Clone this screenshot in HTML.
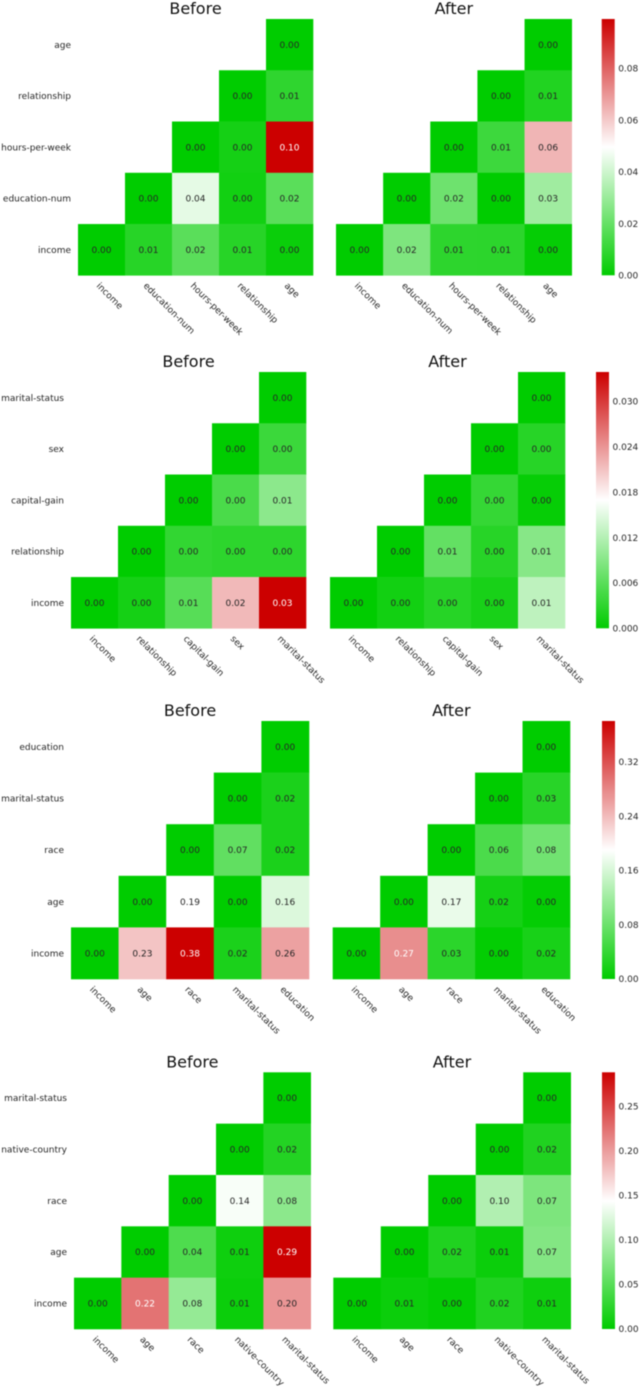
<!DOCTYPE html>
<html lang="en">
<head>
<meta charset="utf-8">
<title>Before and After Correlation Heatmaps</title>
<style>
html,body{margin:0;padding:0;background:#fff;}
body{width:640px;height:1388px;overflow:hidden;}
svg{display:block;filter:blur(0.4px);}
text{font-family:"DejaVu Sans","Liberation Sans",sans-serif;}
</style>
</head>
<body>
<svg id="chart" xmlns="http://www.w3.org/2000/svg" width="640" height="1388" viewBox="0 0 640 1388"></svg>
<script>
// ---- data: each row runs top to bottom, null means masked cell ----
const labels1 = ["income", "education-num", "hours-per-week", "relationship", "age"];
const before1 = [
  [null, null, null, null, 0],
  [null, null, null, 0, 0.0092],
  [null, null, 0, 0.004, 0.0991],
  [null, 0, 0.0445, 0.0035, 0.0175],
  [0, 0.0075, 0.0175, 0.0075, 0.002]
];
const after1 = [
  [null, null, null, null, 0],
  [null, null, null, 0, 0.0065],
  [null, null, 0, 0.0118, 0.064],
  [null, 0, 0.0214, 0, 0.031],
  [0, 0.0245, 0.0087, 0.0085, 0.001]
];
const ticks1 = ["0.00", "0.02", "0.04", "0.06", "0.08"];

const labels2 = ["income", "relationship", "capital-gain", "sex", "marital-status"];
const before2 = [
  [null, null, null, null, 0],
  [null, null, null, 0, 0.0039],
  [null, null, 0, 0.0049, 0.0093],
  [null, 0, 0.0033, 0.003, 0.003],
  [0, 0.0014, 0.0058, 0.0216, 0.0339]
];
const after2 = [
  [null, null, null, null, 0],
  [null, null, null, 0, 0.0026],
  [null, null, 0, 0.0035, 0.0004],
  [null, 0, 0.0066, 0.0026, 0.009],
  [0, 0.0012, 0.0025, 0.0016, 0.0126]
];
const ticks2 = ["0.000", "0.006", "0.012", "0.018", "0.024", "0.030"];

const labels3 = ["income", "age", "race", "marital-status", "education"];
const before3 = [
  [null, null, null, null, 0],
  [null, null, null, 0, 0.02],
  [null, null, 0, 0.072, 0.02],
  [null, 0, 0.19, 0, 0.164],
  [0, 0.234, 0.38, 0.02, 0.26]
];
const after3 = [
  [null, null, null, null, 0],
  [null, null, null, 0, 0.03],
  [null, null, 0, 0.056, 0.084],
  [null, 0, 0.174, 0.016, 0.003],
  [0, 0.274, 0.032, 0.002, 0.018]
];
const ticks3 = ["0.00", "0.08", "0.16", "0.24", "0.32"];

const labels4 = ["income", "age", "race", "native-country", "marital-status"];
const before4 = [
  [null, null, null, null, 0],
  [null, null, null, 0, 0.02],
  [null, null, 0, 0.14, 0.079],
  [null, 0, 0.044, 0.008, 0.288],
  [0, 0.223, 0.084, 0.006, 0.204]
];
const after4 = [
  [null, null, null, null, 0],
  [null, null, null, 0, 0.018],
  [null, null, 0, 0.1, 0.0705],
  [null, 0, 0.018, 0.006, 0.074],
  [0, 0.006, 0.002, 0.018, 0.008]
];
const ticks4 = ["0.00", "0.05", "0.10", "0.15", "0.20", "0.25"];

// ---- figure layout (separate from data) ----
const figures = [
  {id:"row-1", labels:labels1, before:before1, after:after1, ticks:ticks1, top:19, bottom:275.3, bx0:78, bx1:313, ax0:336, ax1:571.7, cb0:601.7, cb1:614.7},
  {id:"row-2", labels:labels2, before:before2, after:after2, ticks:ticks2, top:372, bottom:628.3, bx0:71, bx1:306, ax0:330, ax1:565, cb0:596, cb1:609},
  {id:"row-3", labels:labels3, before:before3, after:after3, ticks:ticks3, top:721, bottom:979, bx0:71, bx1:309, ax0:332.7, ax1:570, cb0:602, cb1:615},
  {id:"row-4", labels:labels4, before:before4, after:after4, ticks:ticks4, top:1072.3, bottom:1329, bx0:74, bx1:310.7, ax0:333.3, ax1:570.7, cb0:602, cb1:615}
];

const NS = "http://www.w3.org/2000/svg";
const root = document.getElementById("chart");

function mk(tag, attrs, parent, txt){
  const el = document.createElementNS(NS, tag);
  for (const k in attrs) el.setAttribute(k, attrs[k]);
  if (txt !== undefined) el.textContent = txt;
  parent.appendChild(el);
  return el;
}
function lerp(a, b, t){ return a + (b - a) * t; }
function cmap(t){
  t = Math.max(0, Math.min(1, t));
  if (t < 0.5){
    const u = t * 2;
    return [lerp(0,255,u), lerp(204,255,u), lerp(0,255,u)].map(Math.round);
  }
  const u = (t - 0.5) * 2;
  return [lerp(255,204,u), lerp(255,0,u), lerp(255,0,u)].map(Math.round);
}
function css(c){ return "rgb(" + c[0] + "," + c[1] + "," + c[2] + ")"; }
function luminance(c){
  const l = c.map(function(v){
    const s = v / 255;
    return s <= 0.03928 ? s / 12.92 : Math.pow((s + 0.055) / 1.055, 2.4);
  });
  return 0.2126 * l[0] + 0.7152 * l[1] + 0.0722 * l[2];
}
function maxOf(matrix){
  let m = 0;
  matrix.forEach(function(r){ r.forEach(function(v){ if (v !== null && v > m) m = v; }); });
  return m;
}

function drawPanel(parent, name, title, matrix, labels, x0, x1, top, bottom, vmax, showY){
  const g = mk("g", {}, parent);
  
  
  const n = labels.length;
  const cw = (x1 - x0) / n, ch = (bottom - top) / n;
  const xAt = function(i){ return x0 + i * cw; };
  const yAt = function(i){ return top + i * ch; };

  const t = mk("text", {x:(x0 + x1) / 2, y:top - 5, "text-anchor":"middle", "font-size":16, fill:"#111"}, g, title);
  
  

  matrix.forEach(function(row, r){
    row.forEach(function(v, c){
      if (v === null) return;
      const col = cmap(v / vmax);
      const rect = mk("rect", {x:xAt(c), y:yAt(r), width:cw + 0.3, height:ch + 0.3, fill:css(col)}, g);
      
      
      const lab = mk("text", {x:xAt(c) + cw / 2, y:yAt(r) + ch / 2 + 3.2, "text-anchor":"middle", "font-size":9,
        fill: luminance(col) < 0.408 ? "#ffffff" : "#262626"}, g, v.toFixed(2));
      
      
    });
  });

  labels.forEach(function(l, i){
    const cx = xAt(i) + cw / 2;
    const bx = cx - 5.5, by = bottom + 11;
    const xl = mk("text", {x:bx, y:by, "font-size":9, fill:"#262626", transform:"rotate(45 " + bx + " " + by + ")"}, g, l);
    
    
    if (showY){
      const yl = mk("text", {x:x0 - 7, y:yAt(n - 1 - i) + ch / 2 + 3.2, "text-anchor":"end", "font-size":9, fill:"#262626"}, g, l);
      
      
    }
  });
}

function drawColorbar(parent, fig, idx, vmax){
  const g = mk("g", {}, parent);
  
  
  const defs = mk("defs", {}, g);
  const gid = "cbgrad" + idx;
  const grad = mk("linearGradient", {id:gid, x1:0, y1:1, x2:0, y2:0}, defs);
  [0, 0.5, 1].forEach(function(s){
    mk("stop", {offset:s, "stop-color":css(cmap(s))}, grad);
  });
  const bar = mk("rect", {x:fig.cb0, y:fig.top, width:fig.cb1 - fig.cb0, height:fig.bottom - fig.top, fill:"url(#" + gid + ")"}, g);
  
  
  fig.ticks.forEach(function(tk){
    const y = fig.bottom - (parseFloat(tk) / vmax) * (fig.bottom - fig.top);
    const lab = mk("text", {x:fig.cb1 + 3.5, y:y + 3.2, "font-size":9, fill:"#262626"}, g, tk);
    
    
  });
}

figures.forEach(function(fig, idx){
  const vmax = Math.max(maxOf(fig.before), maxOf(fig.after));
  const g = mk("g", {}, root);
  
  
  drawPanel(g, fig.id + '-before', "Before", fig.before, fig.labels, fig.bx0, fig.bx1, fig.top, fig.bottom, vmax, true);
  drawPanel(g, fig.id + '-after', "After", fig.after, fig.labels, fig.ax0, fig.ax1, fig.top, fig.bottom, vmax, false);
  drawColorbar(g, fig, idx, vmax);
});
</script>
</body>
</html>
